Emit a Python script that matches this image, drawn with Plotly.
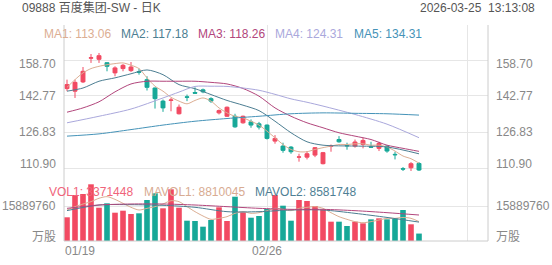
import plotly.graph_objects as go

# ---------------- data ----------------
IDX = list(range(45))  # trading days 01/19 .. 03/25
OPEN = [146.05, 144.9, 149.0, 159.5, 159.0, 157.5, 153.0, 154.9, 154.0, 153.5,
        150.0, 146.3, 140.5, 140.8, 134.9, 142.4, 144.3, 145.5, 141.6, 135.3,
        133.8, 133.8, 130.9, 131.3, 130.45, 129.9, 122.8, 120.6, 120.15, 115.7,
        115.7, 116.6, 112.8, 120.5, 123.5, 120.9, 120.6, 121.3, 120.3, 119.6,
        120.6, 116.95, 110.6, 111.0, 112.9]
HIGH = [150.0, 150.0, 155.6, 161.35, 161.8, 157.6, 155.9, 156.9, 157.8, 154.9,
        151.5, 146.5, 141.2, 141.9, 139.0, 143.4, 146.6, 146.05, 142.2, 136.8,
        138.1, 134.9, 134.1, 132.4, 131.3, 130.15, 125.45, 122.1, 120.6, 117.2,
        118.4, 120.15, 118.0, 121.3, 125.0, 122.1, 123.5, 124.3, 122.5, 122.5,
        120.9, 118.1, 111.3, 113.5, 113.5]
LOW = [144.9, 141.9, 148.5, 157.4, 157.4, 153.7, 151.5, 153.7, 153.4, 152.2,
       145.2, 137.2, 135.75, 136.0, 134.6, 140.5, 143.8, 144.0, 139.7, 134.6,
       133.5, 128.7, 130.5, 128.7, 127.95, 123.5, 121.65, 117.65, 117.2, 113.7,
       114.7, 115.7, 112.5, 118.1, 122.1, 119.0, 119.9, 119.6, 119.9, 118.4,
       117.65, 114.7, 108.8, 109.4, 109.1]
CLOSE = [147.8, 148.8, 153.7, 159.7, 160.6, 155.9, 155.2, 156.35, 155.6, 153.3,
         146.6, 141.6, 137.5, 141.0, 137.8, 142.2, 144.0, 144.6, 140.5, 136.3,
         137.8, 129.1, 133.8, 129.9, 129.0, 124.0, 124.0, 118.7, 118.1, 115.8,
         117.2, 119.9, 117.7, 120.65, 122.5, 120.7, 122.4, 123.1, 120.1, 121.8,
         118.4, 116.75, 110.4, 112.8, 110.0]

MA1_X = IDX
MA1 = [146.6, 150.0, 153.0, 154.9, 155.9, 156.6, 157.1, 157.4, 156.4, 154.9,
       150.8, 147.1, 144.9, 142.2, 140.5, 139.3, 140.8, 141.9, 140.5, 137.5,
       135.3, 133.8, 133.1, 131.6, 129.9, 127.2, 124.3, 121.3, 119.1, 118.1,
       118.1, 119.1, 119.9, 120.6, 121.3, 121.3, 121.6, 121.6, 121.0, 121.0,
       120.2, 118.4, 116.2, 115.0, 113.06]
MA2_X = [0, 2, 4, 6, 8, 10, 12, 14, 16, 18, 20, 22, 24, 26, 28, 30, 32, 36, 40, 44]
MA2 = [144.9, 146.3, 149.3, 150.8, 152.6, 154.3, 152.2, 147.8, 146.0, 143.4,
       140.8, 138.7, 136.3, 131.6, 126.5, 122.5, 121.0, 120.6, 120.2, 117.18]
MA3_X = [0, 2, 4, 6, 8, 10, 12, 14, 16, 18, 20, 22, 24, 26, 28, 30, 32, 34, 36, 38, 40, 42, 44]
MA3 = [135.6, 137.5, 140.2, 144.6, 148.1, 149.3, 149.3, 149.3, 149.3, 148.8,
       148.1, 146.1, 142.7, 137.5, 133.8, 130.9, 128.7, 126.5, 125.0, 123.5,
       121.0, 119.6, 118.26]
MA4_X = [0, 4, 8, 12, 14, 16, 18, 20, 22, 24, 26, 28, 30, 32, 36, 40, 44]
MA4 = [130.9, 133.8, 137.0, 141.9, 144.5, 147.0, 147.1, 147.0, 146.3, 145.3,
       143.5, 141.5, 140.0, 138.3, 134.6, 130.3, 124.31]
MA5_X = [0, 4, 8, 12, 16, 20, 24, 28, 32, 36, 40, 44]
MA5 = [125.0, 126.0, 127.9, 129.9, 131.6, 132.8, 133.8, 134.9, 135.3, 135.1, 134.9, 134.31]

VOL = [10760000, 20880000, 21340000, 25740000, 15120000, 17110000, 12850000, 13760000,
       12260000, 12570000, 18610000, 21650000, 14840000, 23470000, 15120000, 9220000,
       9080000, 6500000, 9530000, 15300000, 9080000, 20110000, 13030000, 10580000,
       11350000, 14530000, 20880000, 16030000, 9220000, 18610000, 18160000, 15890000,
       14070000, 8770000, 8770000, 6810000, 8770000, 8020000, 9840000, 10300000,
       9840000, 10300000, 14070000, 7580000, 3371448]
VOL_UP = [1, 1, 1, 1, 1, 0, 1, 1, 1, 0, 0, 0, 1, 1, 1, 0, 0, 0, 0, 1, 1, 0, 1, 0, 0,
          0, 1, 0, 0, 1, 1, 1, 1, 1, 0, 0, 1, 1, 0, 1, 0, 0, 0, 1, 0]
MAVOL1 = [14070000, 15590000, 16800000, 17860000, 19400000, 20130000, 18900000, 17100000,
          15300000, 14070000, 14830000, 15590000, 16800000, 18300000, 17860000, 15590000,
          13320000, 11350000, 9840000, 10290000, 11050000, 12560000, 13320000, 12560000,
          12860000, 13770000, 14830000, 14370000, 13770000, 14830000, 15280000, 15590000,
          14830000, 12860000, 11050000, 9840000, 8780000, 8300000, 8780000, 9530000,
          10290000, 10290000, 10700000, 10290000, 8810045]
MAVOL2_X = [0, 4, 8, 12, 16, 20, 24, 28, 32, 36, 40, 44]
MAVOL2 = [13800000, 16340000, 16500000, 16200000, 15300000, 13320000, 13320000,
          14070000, 14070000, 12560000, 10700000, 8581748]
MAVOL3_X = [0, 4, 8, 12, 16, 20, 24, 28, 32, 36, 40, 44]
MAVOL3 = [14830000, 16340000, 16800000, 16800000, 16340000, 15590000, 14830000,
          14370000, 14370000, 13770000, 12860000, 11800000]

PRICE_TICKS = [158.70, 142.77, 126.83, 110.90]
VOL_TICK = 15889760
X_TICK_POS = [0, 25]
X_TICK_TEXT = ["01/19", "02/26"]
X_GRID = [25, 50]

TITLE = "09888 百度集团-SW - 日K"
TIMESTAMP = "2026-03-25\u00a0\u00a013:13:08"
MA_NAMES = ["MA1", "MA2", "MA3", "MA4", "MA5"]
MA_LAST = [113.06, 117.18, 118.26, 124.31, 134.31]
VOL_NAMES = ["VOL1", "MAVOL1", "MAVOL2"]
VOL_LAST = [3371448, 8810045, 8581748]

# ---------------- style ----------------
UP = "#f24a62"
DOWN = "#17a898"
MA_COLORS = ["#dcae93", "#4c7e92", "#b2467c", "#aaa8dc", "#4593b8"]
VOL_LINE_COLORS = ["#dcae93", "#4c7e92", "#b2467c"]
VOL_TEXT_COLORS = ["#f0647a", "#d8ab92", "#4f7f95"]
GRID = "#e6e6e6"
AXIS_TXT = "#888888"
FONT = "Liberation Sans, Arial, Noto Sans CJK SC, sans-serif"

W, H = 552, 265
L, R, T, B = 64, 64, 25, 24
PW, PH = W - L - R, H - T - B


def px(xp):
    return (xp - L) / PW


def py(yp):
    return (H - B - yp) / PH


SPLIT = py(171)
PRICE_RANGE = [109.57, 174.19]
VOL_RANGE = [0, 2 * VOL_TICK]

fig = go.Figure()
fig.add_trace(go.Candlestick(
    x=IDX, open=OPEN, high=HIGH, low=LOW, close=CLOSE,
    increasing=dict(line=dict(color=UP, width=1), fillcolor=UP),
    decreasing=dict(line=dict(color=DOWN, width=1), fillcolor=DOWN),
    whiskerwidth=0, xaxis="x", yaxis="y", showlegend=False, hoverinfo="skip"))

for xs, ys, c in zip([MA1_X, MA2_X, MA3_X, MA4_X, MA5_X], [MA1, MA2, MA3, MA4, MA5], MA_COLORS):
    fig.add_trace(go.Scatter(x=xs, y=ys, mode="lines", xaxis="x", yaxis="y",
                             line=dict(color=c, width=1, shape="spline", smoothing=0.8),
                             showlegend=False, hoverinfo="skip"))

fig.add_trace(go.Bar(x=IDX, y=VOL, xaxis="x", yaxis="y2",
                     marker=dict(color=[UP if u else DOWN for u in VOL_UP], line=dict(width=0)),
                     showlegend=False, hoverinfo="skip"))
for xs, ys, c in zip([IDX, MAVOL2_X, MAVOL3_X], [MAVOL1, MAVOL2, MAVOL3], VOL_LINE_COLORS):
    fig.add_trace(go.Scatter(x=xs, y=ys, mode="lines", xaxis="x", yaxis="y2",
                             line=dict(color=c, width=1, shape="spline", smoothing=0.8),
                             showlegend=False, hoverinfo="skip"))

ann = []


def text(x, y, s, color, anchor="left", size=12, xref="paper", yref="paper", yshift=0):
    ann.append(dict(x=x, y=y, xref=xref, yref=yref, text=s, showarrow=False,
                    xanchor=anchor, yanchor="middle", borderpad=0, yshift=yshift,
                    font=dict(family=FONT, size=size, color=color)))


text(px(21), py(8), TITLE, "#555555")
text(px(536), py(8), TIMESTAMP, "#555555", anchor="right")

ma_x = [43, 120, 197, 274, 353]
for xp, n, v, c in zip(ma_x, MA_NAMES, MA_LAST, MA_COLORS):
    text(px(xp), py(34), f"{n}: {v:.2f}", c)

vol_x = [48, 143, 254]
for xp, n, v, c in zip(vol_x, VOL_NAMES, VOL_LAST, VOL_TEXT_COLORS):
    text(px(xp), py(192), f"{n}: {v}", c)

n_t = len(PRICE_TICKS)
for k, v in enumerate(PRICE_TICKS):
    shift = -4 if k == 0 else (4 if k == n_t - 1 else 0)
    text(px(57), v, f"{v:.2f}", AXIS_TXT, anchor="right", yref="y", yshift=shift)
    text(px(495), v, f"{v:.2f}", AXIS_TXT, anchor="left", yref="y", yshift=shift)

text(px(57), VOL_TICK, str(VOL_TICK), AXIS_TXT, anchor="right", yref="y2")
text(px(495), VOL_TICK, str(VOL_TICK), AXIS_TXT, anchor="left", yref="y2")
text(px(57), py(236.5), "万股", AXIS_TXT, anchor="right")
text(px(495), py(236.5), "万股", AXIS_TXT, anchor="left")

XR = [-0.375, 52.625]
for pos, lab in zip(X_TICK_POS, X_TICK_TEXT):
    if pos == X_TICK_POS[0]:
        text(0, py(251), lab, AXIS_TXT, anchor="left")
    else:
        text(pos, py(251), lab, AXIS_TXT, anchor="center", xref="x")

shapes = [
    dict(type="line", xref="paper", yref="paper", x0=0, x1=0, y0=0, y1=1,
         line=dict(color="#cccccc", width=1)),
    dict(type="line", xref="paper", yref="paper", x0=1, x1=1, y0=0, y1=1,
         line=dict(color="#cccccc", width=1)),
    dict(type="line", xref="paper", yref="paper", x0=0, x1=1, y0=0, y1=0,
         line=dict(color="#cccccc", width=1)),
]

fig.update_layout(
    width=W, height=H, autosize=False,
    margin=dict(l=L, r=R, t=T, b=B, pad=0),
    paper_bgcolor="white", plot_bgcolor="white",
    bargap=0.3, showlegend=False,
    annotations=ann, shapes=shapes,
    xaxis=dict(range=XR, anchor="y2", tickvals=X_GRID, showticklabels=False,
               showgrid=True, gridcolor=GRID, gridwidth=1, zeroline=False,
               showline=False, ticks="", rangeslider=dict(visible=False), fixedrange=True),
    yaxis=dict(domain=[SPLIT, 1], range=PRICE_RANGE, tickvals=PRICE_TICKS,
               showticklabels=False, showgrid=True, gridcolor=GRID, gridwidth=1,
               zeroline=False, showline=False, ticks="", fixedrange=True),
    yaxis2=dict(domain=[0, SPLIT], range=VOL_RANGE, tickvals=[VOL_TICK],
                showticklabels=False, showgrid=True, gridcolor=GRID, gridwidth=1,
                zeroline=False, showline=False, ticks="", fixedrange=True),
)

fig.write_html("out.html")
